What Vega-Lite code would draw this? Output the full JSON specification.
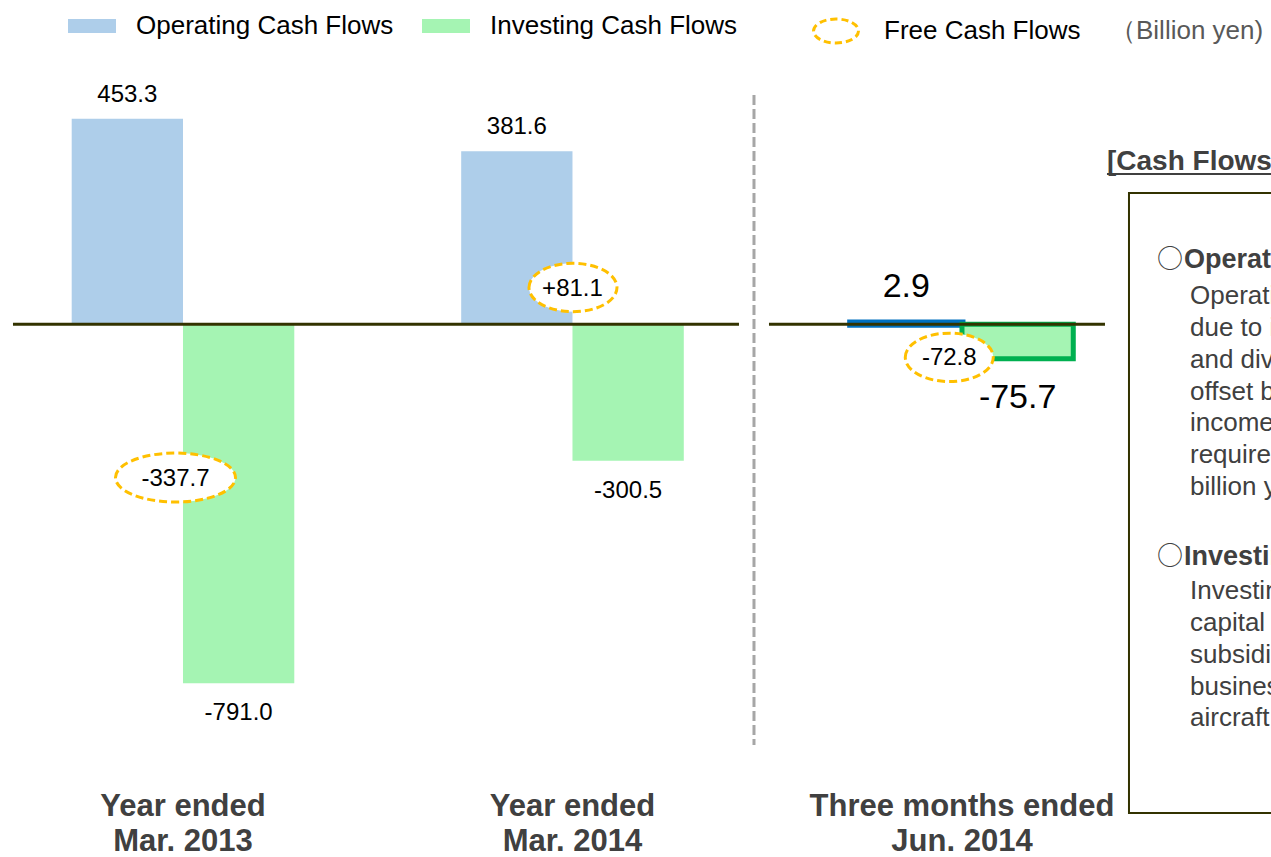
{
  "$schema": "https://vega.github.io/schema/vega-lite/v6.json",
  "width": 1271,
  "height": 857,
  "autosize": {"type": "none"},
  "padding": 0,
  "background": "#ffffff",
  "config": {"view": {"stroke": null}, "font": "Liberation Sans"},
  "datasets": {
    "cf": [
      {"period": "Mar. 2013", "type": "Operating Cash Flows", "value": 453.3, "label": "453.3"},
      {"period": "Mar. 2013", "type": "Investing Cash Flows", "value": -791.0, "label": "-791.0"},
      {"period": "Mar. 2014", "type": "Operating Cash Flows", "value": 381.6, "label": "381.6"},
      {"period": "Mar. 2014", "type": "Investing Cash Flows", "value": -300.5, "label": "-300.5"},
      {"period": "Jun. 2014", "type": "Operating Cash Flows", "value": 2.9, "label": "2.9"},
      {"period": "Jun. 2014", "type": "Investing Cash Flows", "value": -75.7, "label": "-75.7"}
    ],
    "fcf": [
      {"period": "Mar. 2013", "fcf": -337.7, "label": "-337.7"},
      {"period": "Mar. 2014", "fcf": 81.1, "label": "+81.1"},
      {"period": "Jun. 2014", "fcf": -72.8, "label": "-72.8"}
    ],
    "periods": [
      {"period": "Mar. 2013", "lines": ["Year ended", "Mar. 2013"]},
      {"period": "Mar. 2014", "lines": ["Year ended", "Mar. 2014"]},
      {"period": "Jun. 2014", "lines": ["Three months ended", "Jun. 2014"]}
    ]
  },
  "layer": [
    {
      "data": {"name": "cf"},
      "mark": {"type": "bar"},
      "encoding": {
        "x": {
          "field": "period", "type": "nominal", "sort": null, "title": null,
          "scale": {"type": "band", "domain": ["Mar. 2013", "Mar. 2014", "Jun. 2014"], "paddingInner": 0.4285, "paddingOuter": 0.34585, "align": 0.2661, "round": false},
          "axis": null
        },
        "xOffset": {"field": "type", "type": "nominal", "sort": null, "scale": {"domain": ["Operating Cash Flows", "Investing Cash Flows"], "paddingInner": 0, "paddingOuter": 0}},
        "y": {"field": "value", "type": "quantitative", "scale": {"domain": [-1174.1, 714.8], "nice": false, "zero": false}, "axis": null},
        "fill": {
          "field": "type", "type": "nominal",
          "scale": {"domain": ["Operating Cash Flows", "Investing Cash Flows"], "range": ["#AECEEA", "#A5F4B3"]},
          "legend": {"orient": "none", "legendX": 68, "legendY": 2, "direction": "horizontal", "title": null, "padding": 0, "symbolType": "M-1,-0.29H1V0.29H-1Z", "symbolSize": 2304, "symbolStrokeWidth": 0, "symbolOpacity": 1, "labelFont": "Liberation Sans", "labelFontSize": 26, "labelColor": "#000000", "labelOffset": 20, "columnPadding": 28, "labelLimit": 400,
            "encode": {"symbols": {"update": {"shape": {"signal": "datum.value === 'Investing Cash Flows' ? 'M-0.333,-0.29H1.042V0.29H-0.333Z' : 'M-1,-0.29H1V0.29H-1Z'"}}}}}
        },
        "stroke": {"condition": [
          {"test": "datum.period === 'Jun. 2014' && datum.type === 'Operating Cash Flows'", "value": "#0070C0"},
          {"test": "datum.period === 'Jun. 2014'", "value": "#00B050"}
        ], "value": "transparent"},
        "strokeWidth": {"condition": [
          {"test": "datum.period === 'Jun. 2014' && datum.type === 'Operating Cash Flows'", "value": 7},
          {"test": "datum.period === 'Jun. 2014'", "value": 5}
        ], "value": 0}
      }
    },
    {
      "data": {"values": [{}]},
      "mark": {"type": "point", "shape": "M-1,0H1", "size": 527076, "filled": false, "stroke": "#333300", "strokeWidth": 3, "opacity": 1},
      "encoding": {
        "x": {"datum": "Mar. 2013", "type": "nominal", "bandPosition": 1.367, "axis": null},
        "y": {"datum": 0, "type": "quantitative", "axis": null}
      }
    },
    {
      "data": {"values": [{}]},
      "mark": {"type": "point", "shape": "M-1,0H1", "size": 112896, "filled": false, "stroke": "#333300", "strokeWidth": 3, "opacity": 1},
      "encoding": {
        "x": {"datum": "Jun. 2014", "type": "nominal", "bandPosition": 0.3877, "axis": null},
        "y": {"datum": 0, "type": "quantitative", "axis": null}
      }
    },
    {
      "data": {"values": [{}]},
      "mark": {"type": "rule", "stroke": "#A6A6A6", "strokeWidth": 3, "strokeDash": [10, 4]},
      "encoding": {
        "x": {"datum": "Mar. 2014", "type": "nominal", "bandPosition": 1.3154, "axis": null},
        "y": {"datum": 505.4, "type": "quantitative", "axis": null},
        "y2": {"datum": -927.3}
      }
    },
    {
      "data": {"name": "fcf"},
      "mark": {"type": "point", "filled": false, "fill": "#ffffff", "fillOpacity": 1, "opacity": 1, "strokeWidth": 3, "strokeDash": [8, 4], "xOffset": {"expr": "datum.period === 'Mar. 2013' ? -7.5 : (datum.period === 'Jun. 2014' ? -12.7 : 0.5)"}},
      "encoding": {
        "x": {"field": "period", "type": "nominal", "axis": null},
        "y": {"field": "fcf", "type": "quantitative", "axis": null},
        "shape": {"condition": {"test": "datum.period === 'Mar. 2013'", "value": "M-1,0A1,0.408,0,1,1,1,0A1,0.408,0,1,1,-1,0Z"}, "value": "M-1,0A1,0.55,0,1,1,1,0A1,0.55,0,1,1,-1,0Z"},
        "size": {"condition": {"test": "datum.period === 'Mar. 2013'", "value": 14400}, "value": 7744},
        "stroke": {
          "datum": "Free Cash Flows", "type": "nominal",
          "scale": {"domain": ["Free Cash Flows"], "range": ["#FFC000"]},
          "legend": {"orient": "none", "legendX": 812, "legendY": 7, "direction": "horizontal", "padding": 0, "title": null, "symbolType": "M-1,0A1,0.533,0,1,1,1,0A1,0.533,0,1,1,-1,0Z", "symbolSize": 2025, "symbolStrokeWidth": 3, "symbolDash": [7, 4], "symbolFillColor": "#ffffff", "symbolOpacity": 1, "labelFont": "Liberation Sans", "labelFontSize": 26, "labelColor": "#000000", "labelOffset": 24, "labelLimit": 400}
        }
      }
    },
    {
      "data": {"values": [{"t": "（Billion yen)"}]},
      "mark": {"type": "text", "align": "left", "baseline": "alphabetic", "fontSize": 26, "color": "#595959"},
      "encoding": {
        "x": {"datum": "Jun. 2014", "type": "nominal", "bandPosition": 1.1649, "axis": null},
        "y": {"datum": 628.8, "type": "quantitative", "axis": null},
        "text": {"field": "t", "type": "nominal"}
      }
    },
    {
      "data": {"name": "fcf"},
      "mark": {"type": "text", "fontSize": 24, "align": "center", "baseline": "middle", "color": "#000000", "dy": 1, "dx": {"expr": "datum.period === 'Mar. 2013' ? -7.5 : (datum.period === 'Jun. 2014' ? -12.7 : 0)"}},
      "encoding": {
        "x": {"field": "period", "type": "nominal", "axis": null},
        "y": {"field": "fcf", "type": "quantitative", "axis": null},
        "text": {"field": "label", "type": "nominal"}
      }
    },
    {
      "data": {"name": "cf"},
      "mark": {"type": "text", "align": "center", "baseline": "alphabetic", "color": "#000000", "dy": {"expr": "datum.period === 'Jun. 2014' ? (datum.value >= 0 ? -25.7 : 49.7) : (datum.value >= 0 ? -17 : 37.3)"}},
      "encoding": {
        "x": {"field": "period", "type": "nominal", "axis": null},
        "xOffset": {"field": "type", "type": "nominal"},
        "y": {"field": "value", "type": "quantitative", "axis": null},
        "text": {"field": "label", "type": "nominal"},
        "size": {"condition": {"test": "datum.period === 'Jun. 2014'", "value": 34}, "value": 24}
      }
    },
    {
      "data": {"name": "periods"},
      "mark": {"type": "text", "align": "center", "baseline": "alphabetic", "fontSize": 31, "fontWeight": "bold", "lineHeight": 35, "color": "#404040"},
      "encoding": {
        "x": {"field": "period", "type": "nominal", "axis": null},
        "y": {"datum": -1083.5, "type": "quantitative", "axis": null},
        "text": {"field": "lines", "type": "nominal"}
      }
    },
    {
      "data": {"values": [{"t": "[Cash Flows Summary]"}]},
      "mark": {"type": "text", "align": "left", "baseline": "alphabetic", "fontSize": 28, "fontWeight": "bold", "color": "#404040"},
      "encoding": {
        "x": {"datum": "Jun. 2014", "type": "nominal", "bandPosition": 1.1514, "axis": null},
        "y": {"datum": 340.1, "type": "quantitative", "axis": null},
        "text": {"field": "t", "type": "nominal"}
      }
    },
    {
      "data": {"values": [{}]},
      "mark": {"type": "point", "shape": "M-1,0H1", "size": 40000, "filled": false, "stroke": "#404040", "strokeWidth": 2, "opacity": 1},
      "encoding": {
        "x": {"datum": "Jun. 2014", "type": "nominal", "bandPosition": 1.6006, "axis": null},
        "y": {"datum": 331.3, "type": "quantitative", "axis": null}
      }
    },
    {
      "data": {"values": [{}]},
      "mark": {"type": "point", "shape": "M3,-1H-1V1H3", "size": 384400, "filled": false, "stroke": "#333300", "strokeWidth": 2, "opacity": 1},
      "encoding": {
        "x": {"datum": "Jun. 2014", "type": "nominal", "bandPosition": 2.6429, "axis": null},
        "y": {"datum": -393.9, "type": "quantitative", "axis": null}
      }
    },
    {
      "data": {"values": [{"t": "○"}]},
      "mark": {"type": "text", "align": "left", "baseline": "alphabetic", "fontSize": 26, "font": "Noto Sans CJK JP", "color": "#404040"},
      "encoding": {
        "x": {"datum": "Jun. 2014", "type": "nominal", "bandPosition": 1.376, "axis": null},
        "y": {"datum": 124.8, "type": "quantitative", "axis": null},
        "text": {"field": "t", "type": "nominal"}
      }
    },
    {
      "data": {"values": [{"t": "○"}]},
      "mark": {"type": "text", "align": "left", "baseline": "alphabetic", "fontSize": 26, "font": "Noto Sans CJK JP", "color": "#404040"},
      "encoding": {
        "x": {"datum": "Jun. 2014", "type": "nominal", "bandPosition": 1.376, "axis": null},
        "y": {"datum": -529.9, "type": "quantitative", "axis": null},
        "text": {"field": "t", "type": "nominal"}
      }
    },
    {
      "data": {"values": [{"t": "Operating Cash Flows"}]},
      "mark": {"type": "text", "align": "left", "baseline": "alphabetic", "fontSize": 27, "fontWeight": "bold", "color": "#404040"},
      "encoding": {
        "x": {"datum": "Jun. 2014", "type": "nominal", "bandPosition": 1.4973, "axis": null},
        "y": {"datum": 124.8, "type": "quantitative", "axis": null},
        "text": {"field": "t", "type": "nominal"}
      }
    },
    {
      "data": {"values": [{"t": ["Operating cash flows were 2.9 billion yen, mainly", " due to income before income taxes, depreciation", " and dividends received, which were partially", " offset by a decrease in trade payables and", " income taxes paid, as well as the funds", " required for payment of bonuses of 30.0", " billion yen."]}]},
      "mark": {"type": "text", "align": "left", "baseline": "alphabetic", "fontSize": 26, "lineHeight": 31.8, "color": "#404040"},
      "encoding": {
        "x": {"datum": "Jun. 2014", "type": "nominal", "bandPosition": 1.5243, "axis": null},
        "y": {"datum": 44.1, "type": "quantitative", "axis": null},
        "text": {"field": "t", "type": "nominal"}
      }
    },
    {
      "data": {"values": [{"t": "Investing Cash Flows"}]},
      "mark": {"type": "text", "align": "left", "baseline": "alphabetic", "fontSize": 27, "fontWeight": "bold", "color": "#404040"},
      "encoding": {
        "x": {"datum": "Jun. 2014", "type": "nominal", "bandPosition": 1.4973, "axis": null},
        "y": {"datum": -529.9, "type": "quantitative", "axis": null},
        "text": {"field": "t", "type": "nominal"}
      }
    },
    {
      "data": {"values": [{"t": ["Investing cash flows were -75.7 billion yen, mainly due to", " capital expenditures, including purchases of", " subsidiaries' shares, investments in new", " business and advance payments for", " aircraft."]}]},
      "mark": {"type": "text", "align": "left", "baseline": "alphabetic", "fontSize": 26, "lineHeight": 31.8, "color": "#404040"},
      "encoding": {
        "x": {"datum": "Jun. 2014", "type": "nominal", "bandPosition": 1.5243, "axis": null},
        "y": {"datum": -606.1, "type": "quantitative", "axis": null},
        "text": {"field": "t", "type": "nominal"}
      }
    }
  ]
}
